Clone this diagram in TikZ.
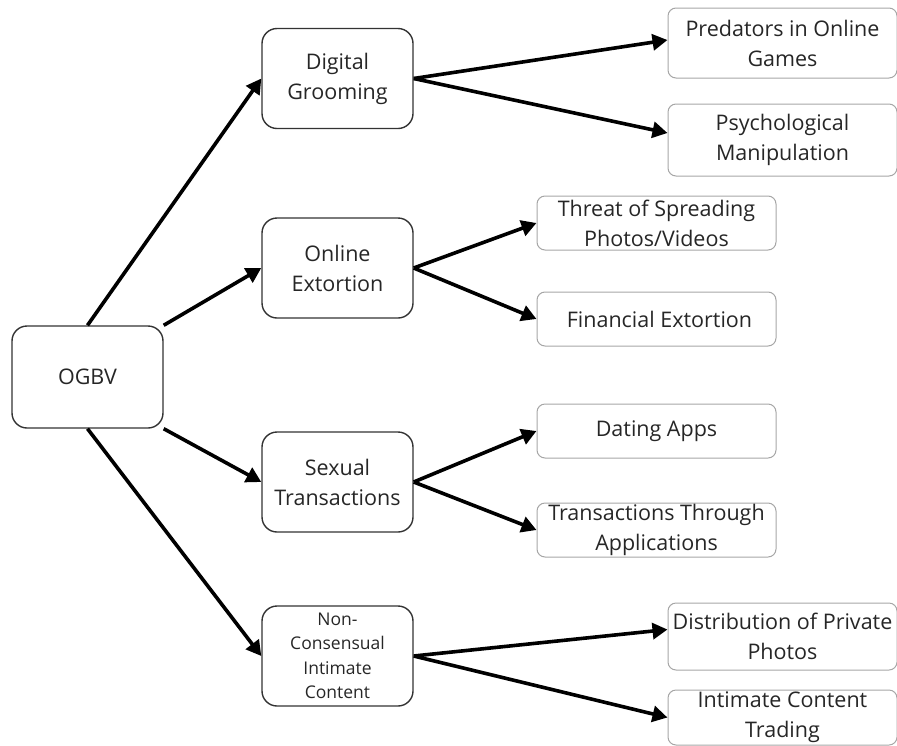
\documentclass[tikz,border=0pt]{standalone}
\usepackage{fontspec}
\setmainfont{Open Sans}
\usetikzlibrary{arrows.meta}

\begin{document}
\begin{tikzpicture}
        [x=1pt, y=-1pt,
        main/.style={draw=black!80, line width=1.4pt, rounded corners=15pt, minimum width=151pt, minimum height=100pt, align=center, text=black!85, font=\fontsize{21.5}{30}\selectfont, inner sep=0pt},
        leaf/.style={draw=black!35, line width=1pt, rounded corners=8pt, align=center, text=black!85, font=\fontsize{21.5}{30}\selectfont, inner sep=0pt},
        edge/.style={line width=3.6pt, black, -{Triangle[length=15pt, width=16pt]}}]

        \useasboundingbox (0,0) rectangle (897,745);

        % root
        \node[main, minimum height=102pt] (ogbv) at (87.5,377) {OGBV};

        % categories
        \node[main] (groom) at (337.5,78.5) {Digital\\Grooming};
        \node[main] (extort) at (337.5,268) {Online\\Extortion};
        \node[main] (trans) at (337.5,482) {Sexual\\Transactions};
        \node[main, font=\fontsize{17.5}{24.5}\selectfont] (ncii) at (337.5,656) {Non-\\Consensual\\Intimate\\Content};

        % leaves
        \node[leaf, minimum width=229pt, minimum height=70pt] (pred) at (782.5,43) {Predators in Online\\Games};
        \node[leaf, minimum width=229pt, minimum height=72pt] (psych) at (782.5,140) {Psychological\\Manipulation};
        \node[leaf, minimum width=239pt, minimum height=54pt] (threat) at (656.5,223) {Threat of Spreading\\Photos/Videos};
        \node[leaf, minimum width=239pt, minimum height=54pt] (fin) at (656.5,319) {\hspace{6pt}Financial Extortion};
        \node[leaf, minimum width=239pt, minimum height=54pt] (dating) at (656.5,431) {Dating Apps};
        \node[leaf, minimum width=239pt, minimum height=54pt] (apps) at (656.5,530) {Transactions Through\\Applications};
        \node[leaf, minimum width=229pt, minimum height=67pt] (distrib) at (782.5,636.5) {Distribution of Private\\Photos};
        \node[leaf, minimum width=229pt, minimum height=55pt] (trading) at (782.5,717.5) {Intimate Content\\Trading};

        % root to categories
        \draw[edge] (ogbv.north) -- (groom.west);
        \draw[edge] (ogbv.north east) -- (extort.west);
        \draw[edge] (ogbv.south east) -- (trans.west);
        \draw[edge] (ogbv.south) -- (ncii.west);

        % categories to leaves
        \draw[edge] (groom.east) -- ([yshift=3pt]pred.west);
        \draw[edge] (groom.east) -- ([yshift=7pt]psych.west);
        \draw[edge] (extort.east) -- (threat.west);
        \draw[edge] (extort.east) -- (fin.west);
        \draw[edge] (trans.east) -- (dating.west);
        \draw[edge] (trans.east) -- (apps.west);
        \draw[edge] (ncii.east) -- ([yshift=7pt]distrib.west);
        \draw[edge] (ncii.east) -- (trading.west);
    \end{tikzpicture}
\end{document}
